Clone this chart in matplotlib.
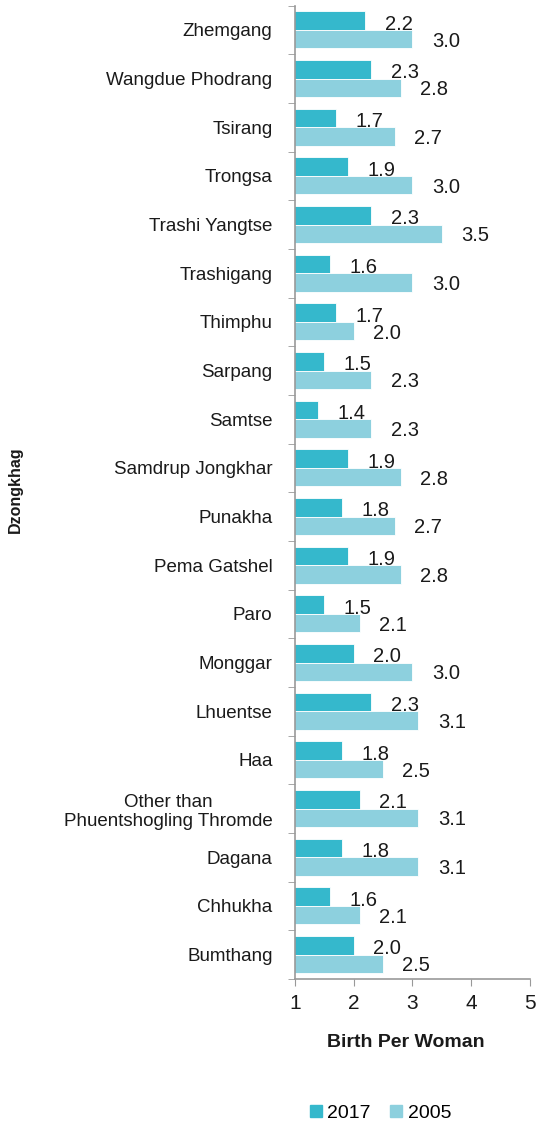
import numpy as np
import matplotlib
matplotlib.use("Agg")
import matplotlib.pyplot as plt
from matplotlib.patches import Patch

plt.rcParams['font.family'] = ['Liberation Sans', 'DejaVu Sans']

# data, top to bottom as in the chart
districts = ["Zhemgang", "Wangdue Phodrang", "Tsirang", "Trongsa", "Trashi Yangtse",
             "Trashigang", "Thimphu", "Sarpang", "Samtse", "Samdrup Jongkhar",
             "Punakha", "Pema Gatshel", "Paro", "Monggar", "Lhuentse", "Haa",
             "Other than\nPhuentshogling Thromde", "Dagana", "Chhukha", "Bumthang"]
tfr_2017 = [2.2, 2.3, 1.7, 1.9, 2.3, 1.6, 1.7, 1.5, 1.4, 1.9,
            1.8, 1.9, 1.5, 2.0, 2.3, 1.8, 2.1, 1.8, 1.6, 2.0]
tfr_2005 = [3.0, 2.8, 2.7, 3.0, 3.5, 3.0, 2.0, 2.3, 2.3, 2.8,
            2.7, 2.8, 2.1, 3.0, 3.1, 2.5, 3.1, 3.1, 2.1, 2.5]

c17 = "#35b8cc"
c05 = "#8dd0de"

fig = plt.figure(figsize=(5.36, 11.29), dpi=100)
ax = fig.add_axes([0.550, 0.133, 0.439, 0.862])

y = np.arange(len(districts))
h = 0.38
ax.barh(y - h / 2, tfr_2017, height=h, color=c17, edgecolor="white", linewidth=0.6)
ax.barh(y + h / 2, tfr_2005, height=h, color=c05, edgecolor="white", linewidth=0.6)

# value labels, a bit right and below the bar end
for i in range(len(districts)):
    ax.annotate(f"{tfr_2017[i]:.1f}", (tfr_2017[i], y[i] - h / 2), xytext=(14, -2.5),
                textcoords="offset points", va="center", ha="left", fontsize=14.5, color="#1a1a1a")
    ax.annotate(f"{tfr_2005[i]:.1f}", (tfr_2005[i], y[i] + h / 2), xytext=(14, -1.5),
                textcoords="offset points", va="center", ha="left", fontsize=14.5, color="#1a1a1a")

ax.set_xlim(1, 5)
ax.set_ylim(len(districts) - 0.5, -0.5)
ax.set_xticks([1, 2, 3, 4, 5])
ax.tick_params(axis="x", labelsize=15, length=5, color="#999999", pad=6, labelcolor="#1a1a1a")

ax.set_yticks(y)
ax.set_yticklabels(districts, fontsize=13.5, color="#1a1a1a")
ax.set_yticks(np.arange(-0.5, len(districts)), minor=True)
ax.tick_params(axis="y", which="major", length=0, pad=16)
ax.tick_params(axis="y", which="minor", length=5, color="#999999")
for lab in ax.get_yticklabels():
    lab.set_multialignment("center")

for s in ["top", "right"]:
    ax.spines[s].set_visible(False)
for s in ["left", "bottom"]:
    ax.spines[s].set_color("#999999")
    ax.spines[s].set_linewidth(1.2)

ax.set_xlabel("Birth Per Woman", fontsize=14, fontweight="bold", color="#1a1a1a")
ax.xaxis.set_label_coords(0.47, -0.057)
fig.text(0.028, 0.566, "Dzongkhag", rotation=90, fontsize=11.5, fontweight="bold",
         ha="center", va="center", color="#1a1a1a")

handles = [Patch(color=c17, label="2017"), Patch(color=c05, label="2005")]
fig.legend(handles=handles, loc="center", bbox_to_anchor=(0.71, 0.014), ncol=2, frameon=False,
           fontsize=14, handlelength=0.6, handleheight=0.6, handletextpad=0.3, columnspacing=1.0)

fig.savefig("out.png", dpi=100)
